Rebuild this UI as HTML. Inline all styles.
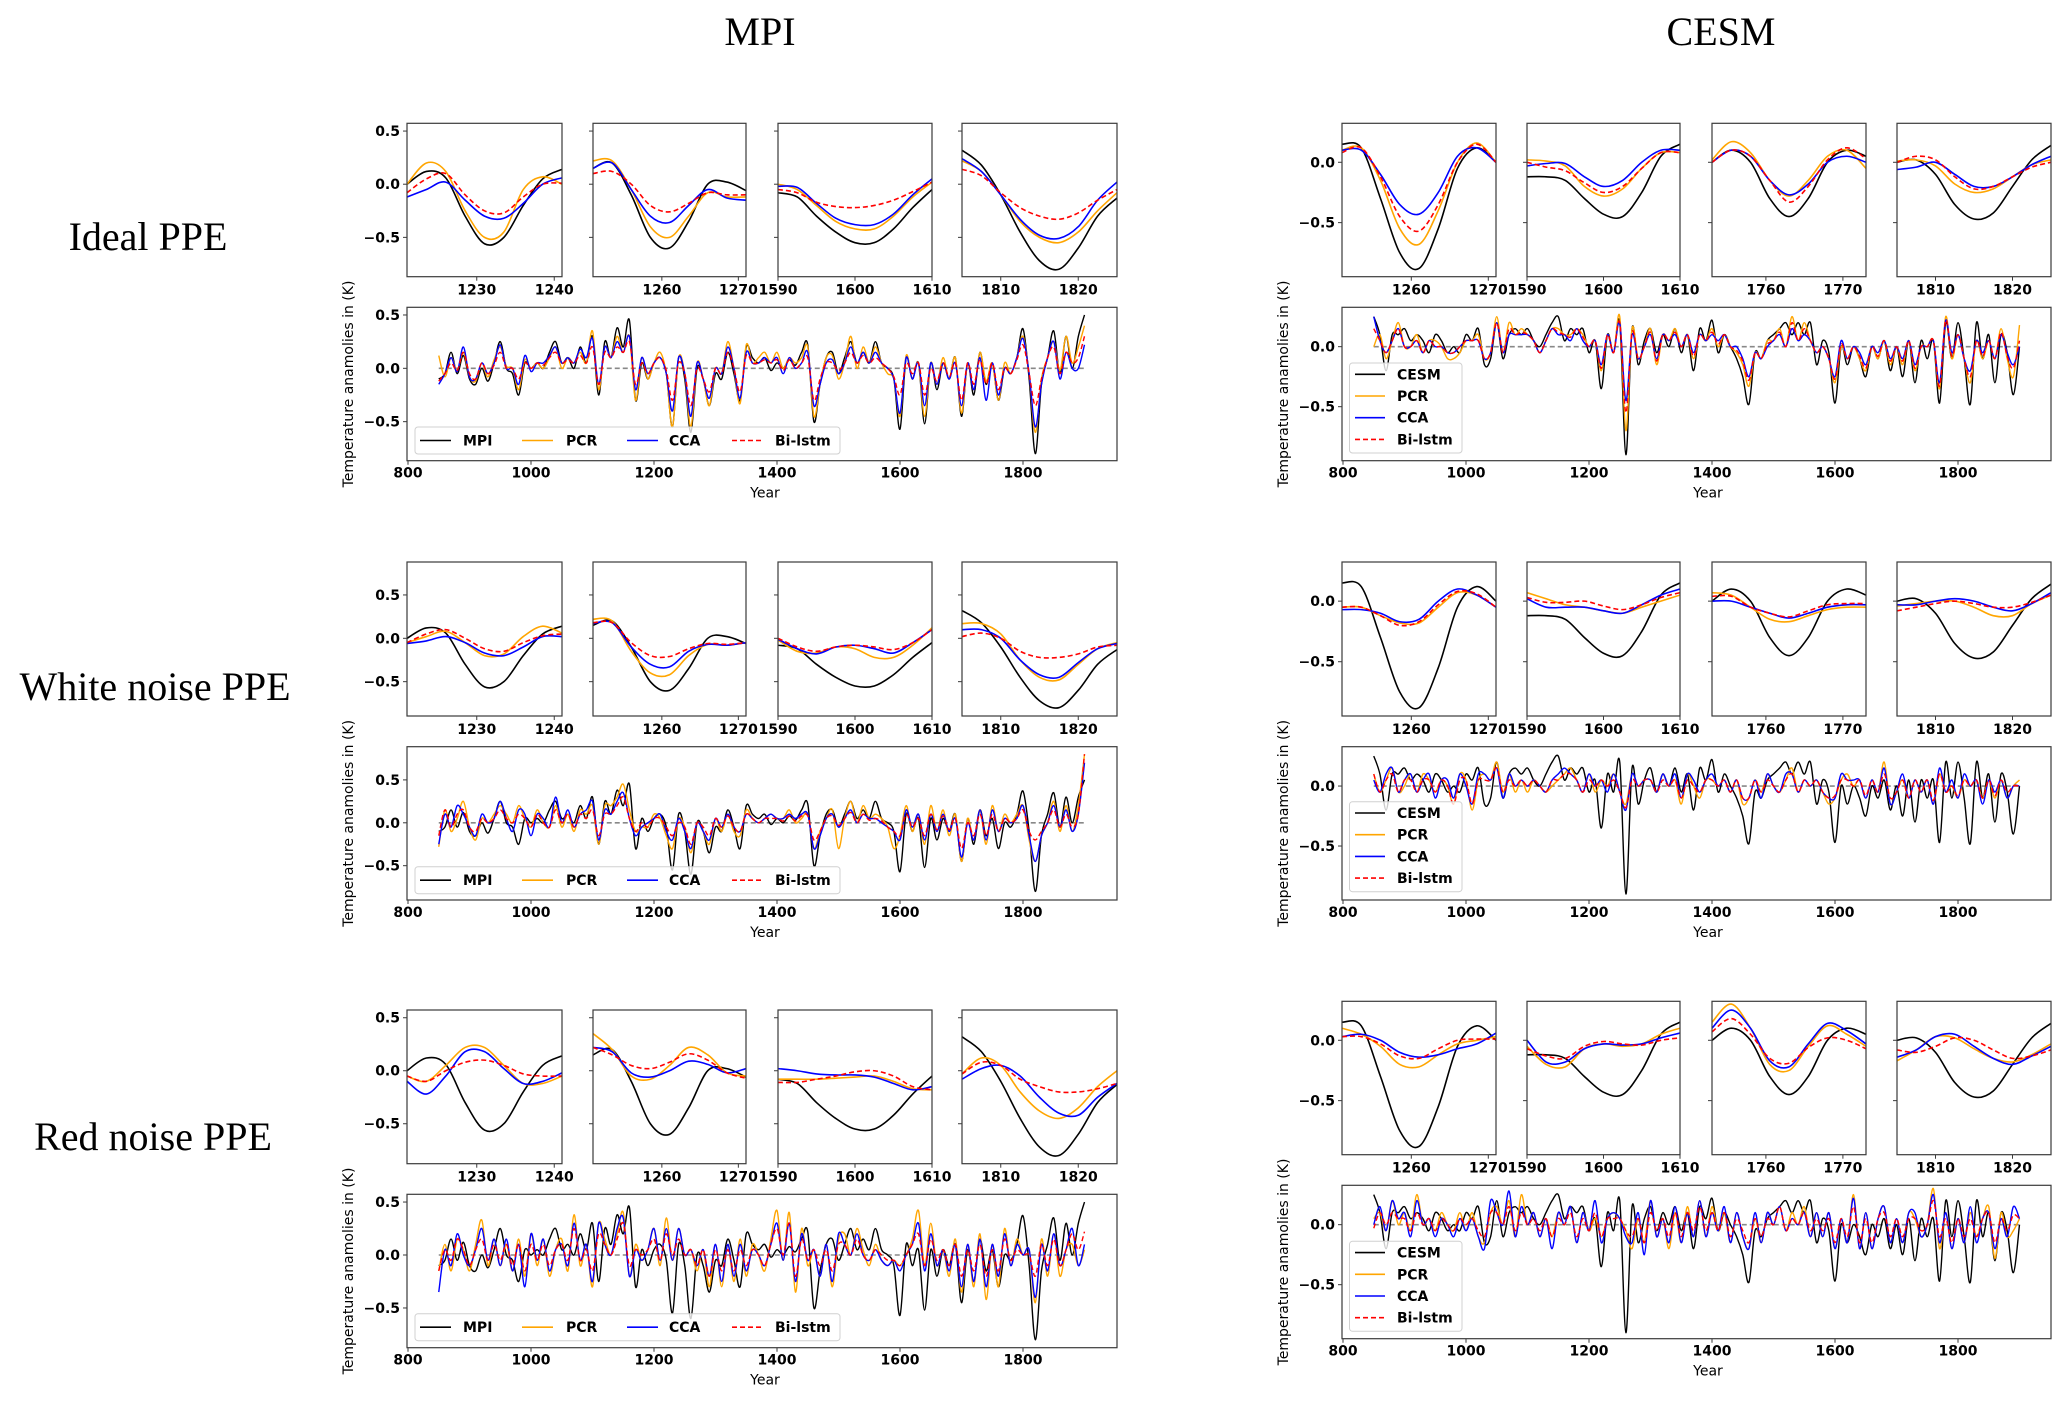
<!DOCTYPE html>
<html>
<head>
<meta charset="utf-8">
<style>
html,body{margin:0;padding:0;background:#fff;}
svg{display:block;}
.ttl{font-family:"Liberation Serif","Times New Roman",serif;font-size:40px;fill:#000;}
.tk{font-family:"DejaVu Sans","Liberation Sans",sans-serif;font-size:14px;font-weight:bold;fill:#000;}
.ax{font-family:"DejaVu Sans","Liberation Sans",sans-serif;font-size:14px;fill:#000;}
</style>
</head>
<body>
<svg id="fig" width="2067" height="1402" viewBox="0 0 2067 1402" xmlns="http://www.w3.org/2000/svg">
<rect x="0" y="0" width="2067" height="1402" fill="#fff"/>
<text class="ttl" x="760" y="45" text-anchor="middle">MPI</text>
<text class="ttl" x="1721" y="45" text-anchor="middle">CESM</text>
<text class="ttl" x="148" y="250" text-anchor="middle">Ideal PPE</text>
<text class="ttl" x="155" y="700" text-anchor="middle">White noise PPE</text>
<text class="ttl" x="153" y="1150" text-anchor="middle">Red noise PPE</text>
</svg>
<script>
// ===== Data: big panels, one value per decade 850..1900 =====
const BIG_START = 850;
const BIG_STEP = 10;
const MPI_TRUTH = [-0.1,-0.05,0.15,-0.05,0.12,-0.1,-0.15,0.0,-0.12,0.05,
0.25,0.0,-0.05,-0.25,0.05,0.0,0.05,0.0,0.15,0.25,
0.05,0.1,0.0,0.2,0.05,0.3,-0.25,0.25,0.1,0.38,
0.2,0.45,-0.3,0.05,-0.1,0.05,0.1,-0.05,-0.55,0.1,
-0.1,-0.6,0.0,-0.1,-0.35,-0.05,-0.1,0.15,-0.05,-0.3,
0.2,0.1,0.05,0.1,-0.02,0.05,0.0,0.08,0.03,0.15,
0.22,-0.5,-0.15,0.1,0.15,-0.05,0.1,0.25,0.05,0.15,
0.05,0.25,0.05,0.0,-0.1,-0.57,0.1,-0.1,0.05,-0.52,
0.05,-0.2,0.05,-0.1,0.1,-0.45,0.05,-0.25,0.15,-0.15,
0.05,-0.3,0.0,-0.05,0.1,0.37,-0.1,-0.8,-0.15,0.1,
0.35,-0.05,0.3,0.0,0.3,0.5];
const MPI_IDEAL_PCR = [0.12,-0.08,0.1,-0.02,0.15,-0.08,-0.12,0.05,-0.08,0.08,
0.2,0.02,0.0,-0.2,0.08,0.0,0.05,0.0,0.1,0.2,
0.0,0.1,0.05,0.15,0.05,0.35,-0.2,0.2,0.1,0.3,
0.15,0.3,-0.3,0.1,-0.1,0.05,0.15,-0.05,-0.55,0.1,
-0.05,-0.55,0.05,-0.1,-0.35,0.0,-0.05,0.25,0.0,-0.33,
0.22,0.05,0.1,0.15,0.05,0.15,0.0,0.1,0.05,0.1,
0.2,-0.45,-0.15,0.1,0.12,-0.1,0.05,0.3,0.0,0.2,
0.05,0.2,0.05,-0.05,-0.1,-0.45,0.12,-0.1,0.05,-0.45,
0.05,-0.15,0.1,-0.1,0.1,-0.42,0.05,-0.2,0.15,-0.12,
0.05,-0.3,0.05,-0.05,0.1,0.3,-0.05,-0.6,-0.1,0.1,
0.25,-0.02,0.3,0.05,0.2,0.4];
const MPI_IDEAL_CCA = [-0.15,-0.05,0.1,-0.03,0.2,-0.08,-0.1,0.05,-0.05,0.05,
0.22,0.0,0.0,-0.15,0.12,-0.03,0.05,0.05,0.12,0.2,
0.05,0.1,0.05,0.18,0.1,0.28,-0.15,0.2,0.1,0.25,
0.15,0.3,-0.2,0.1,-0.05,0.05,0.1,-0.05,-0.4,0.1,
-0.05,-0.45,0.05,-0.1,-0.28,0.0,-0.05,0.2,0.0,-0.28,
0.15,0.05,0.05,0.1,0.05,0.1,-0.05,0.1,0.0,0.05,
0.15,-0.35,-0.15,0.05,0.08,-0.05,0.05,0.2,0.05,0.15,
0.05,0.15,0.05,0.0,-0.1,-0.42,0.1,-0.1,0.05,-0.35,
0.05,-0.15,0.05,-0.1,0.05,-0.35,0.05,-0.2,0.1,-0.3,
0.05,-0.25,0.0,-0.05,0.1,0.28,-0.05,-0.55,-0.15,0.1,
0.25,-0.1,0.15,0.0,0.0,0.22];
const MPI_IDEAL_BI = [-0.12,-0.05,0.05,-0.02,0.15,-0.05,-0.1,0.05,-0.05,0.03,
0.15,0.0,0.0,-0.1,0.05,0.0,0.05,0.03,0.1,0.15,
0.05,0.08,0.05,0.12,0.05,0.2,-0.15,0.15,0.1,0.2,
0.15,0.25,-0.15,0.05,-0.05,0.05,0.1,-0.02,-0.3,0.05,
-0.05,-0.35,0.0,-0.1,-0.22,0.0,-0.05,0.15,0.0,-0.22,
0.12,0.05,0.05,0.08,0.05,0.08,-0.02,0.08,0.0,0.05,
0.1,-0.3,-0.1,0.05,0.05,-0.02,0.05,0.15,0.05,0.12,
0.05,0.1,0.05,0.0,-0.08,-0.25,0.05,-0.05,0.05,-0.25,
0.0,-0.12,0.05,-0.08,0.05,-0.3,0.05,-0.15,0.08,-0.15,
0.05,-0.2,0.0,-0.05,0.08,0.22,-0.05,-0.35,-0.1,0.1,
0.2,-0.05,0.15,0.05,0.1,0.3];
const MPI_WHITE_PCR = [-0.28,0.15,-0.1,0.05,0.25,-0.05,-0.2,0.05,0.0,0.1,
0.2,0.1,0.0,0.2,0.05,-0.05,0.15,0.0,-0.05,0.2,
-0.05,0.1,-0.1,0.15,0.1,0.2,-0.25,0.2,0.2,0.3,
0.45,0.15,-0.1,-0.05,-0.05,0.1,0.05,-0.15,-0.3,0.05,
-0.05,-0.35,0.0,-0.1,-0.25,0.05,-0.1,0.1,-0.1,-0.15,
0.15,0.05,0.0,0.05,0.1,0.05,0.05,0.15,0.0,0.05,
0.1,-0.3,-0.1,0.05,0.15,-0.3,0.05,0.25,0.0,0.2,
0.05,0.1,0.05,-0.05,-0.3,-0.15,0.2,-0.1,0.1,-0.25,
0.2,-0.1,0.15,-0.15,0.1,-0.45,0.05,-0.2,0.15,-0.25,
0.2,-0.1,0.1,0.0,0.1,0.2,-0.2,-0.45,-0.15,0.0,
0.25,-0.1,0.2,-0.1,0.2,0.8];
const MPI_WHITE_CCA = [-0.25,0.1,-0.05,0.2,0.1,-0.05,-0.15,0.1,0.0,0.05,
0.25,0.05,-0.1,0.15,0.1,-0.15,0.1,0.05,-0.05,0.3,
0.0,0.15,-0.05,0.1,0.15,0.25,-0.2,0.15,0.1,0.25,
0.35,0.05,-0.15,-0.05,0.0,0.05,0.1,-0.1,-0.2,0.05,
-0.1,-0.3,0.0,-0.1,-0.2,0.05,-0.05,0.1,-0.05,-0.1,
0.1,0.05,0.0,0.05,0.1,0.05,0.05,0.1,0.05,0.1,
0.1,-0.3,-0.15,0.05,0.1,-0.05,0.05,0.15,0.0,0.1,
0.05,0.05,0.0,-0.05,-0.1,-0.2,0.15,-0.05,0.1,-0.2,
0.1,-0.1,0.1,-0.1,0.05,-0.4,0.0,-0.2,0.15,-0.2,
0.15,-0.1,0.05,0.0,0.05,0.2,-0.15,-0.45,-0.15,0.0,
0.2,-0.05,0.15,-0.1,0.1,0.7];
const MPI_WHITE_BI = [-0.15,0.15,-0.05,0.1,0.15,-0.05,-0.1,0.05,0.0,0.05,
0.15,0.05,0.0,0.1,0.05,-0.05,0.1,0.0,-0.05,0.15,
0.0,0.1,-0.05,0.1,0.05,0.15,-0.15,0.1,0.1,0.2,
0.3,0.05,-0.1,0.0,-0.05,0.05,0.05,-0.05,-0.15,0.0,
-0.05,-0.25,0.0,-0.05,-0.15,0.05,-0.05,0.08,-0.05,-0.1,
0.1,0.05,0.0,0.05,0.05,0.05,0.02,0.08,0.02,0.08,
0.08,-0.2,-0.1,0.05,0.08,-0.03,0.05,0.12,0.0,0.1,
0.03,0.05,0.02,-0.05,-0.1,-0.15,0.1,-0.05,0.05,-0.15,
0.1,-0.08,0.08,-0.08,0.05,-0.3,0.0,-0.15,0.1,-0.15,
0.1,-0.1,0.05,0.0,0.05,0.15,-0.1,-0.2,-0.1,0.0,
0.15,-0.05,0.1,-0.05,0.1,0.8];
const MPI_RED_PCR = [-0.15,0.1,-0.15,0.15,0.05,-0.15,0.1,0.33,-0.1,0.15,
-0.1,0.1,-0.15,0.15,-0.2,0.2,-0.1,0.15,-0.2,0.05,
0.15,-0.15,0.38,-0.1,0.1,-0.3,0.3,0.15,0.0,0.2,
0.4,-0.2,0.1,-0.05,0.05,0.25,-0.1,0.35,-0.05,0.25,
0.0,0.05,-0.15,0.05,-0.3,0.1,-0.3,0.1,-0.25,0.15,
-0.2,0.1,0.0,-0.15,0.15,0.42,-0.05,0.4,-0.35,0.25,
-0.1,0.05,-0.2,0.1,-0.3,0.15,0.2,0.0,0.25,0.05,
-0.1,0.1,-0.05,-0.1,-0.05,-0.1,0.0,0.15,0.42,-0.1,
0.3,-0.1,0.05,-0.2,0.15,-0.35,0.1,-0.3,0.2,-0.42,
0.1,-0.3,0.25,-0.1,0.15,0.0,0.05,-0.45,0.15,-0.2,
0.2,-0.2,0.05,0.1,-0.1,0.05];
const MPI_RED_CCA = [-0.35,0.05,-0.1,0.2,0.0,-0.1,0.05,0.25,-0.05,0.15,
-0.1,0.15,-0.15,0.1,-0.3,0.2,-0.05,0.15,-0.15,0.05,
0.1,-0.1,0.3,-0.05,0.1,-0.25,0.3,0.1,0.0,0.25,
0.35,-0.2,0.05,-0.05,0.05,0.25,-0.05,0.25,-0.05,0.25,
0.0,0.05,-0.1,0.05,-0.2,0.1,-0.25,0.1,-0.2,0.1,
-0.15,0.05,0.0,-0.1,0.1,0.3,-0.05,0.3,-0.25,0.2,
-0.05,0.05,-0.2,0.1,-0.25,0.2,0.1,0.0,0.2,0.0,
-0.05,0.05,-0.05,-0.1,-0.05,-0.15,0.0,0.1,0.3,-0.15,
0.2,-0.1,0.05,-0.15,0.1,-0.3,0.1,-0.25,0.15,-0.3,
0.1,-0.2,0.2,-0.1,0.1,0.0,0.05,-0.4,0.1,-0.15,
0.2,-0.1,0.05,0.25,-0.1,0.1];
const MPI_RED_BI = [-0.15,0.05,-0.05,0.15,0.05,-0.1,0.05,0.15,-0.05,0.1,
-0.05,0.1,-0.1,0.1,-0.15,0.1,-0.05,0.1,-0.1,0.05,
0.1,-0.05,0.25,-0.05,0.05,-0.15,0.2,0.1,0.0,0.15,
0.3,-0.1,0.05,0.0,0.05,0.15,-0.05,0.2,0.0,0.15,
0.0,0.05,-0.1,0.05,-0.2,0.05,-0.15,0.05,-0.15,0.05,
-0.1,0.05,0.0,-0.1,0.1,0.25,0.0,0.3,-0.2,0.15,
-0.05,0.05,-0.1,0.05,-0.15,0.1,0.1,0.0,0.15,0.0,
-0.05,0.05,0.0,-0.05,-0.05,-0.1,0.0,0.1,0.2,-0.1,
0.15,-0.05,0.05,-0.1,0.1,-0.2,0.05,-0.15,0.1,-0.2,
0.05,-0.15,0.15,-0.05,0.05,0.0,0.0,-0.2,0.1,-0.1,
0.15,-0.1,0.05,0.2,0.05,0.22];
const CESM_TRUTH = [0.25,0.1,-0.2,0.1,0.1,0.15,0.05,0.1,0.05,-0.05,
0.1,0.05,-0.05,0.0,-0.05,0.1,0.05,0.15,-0.15,-0.1,
0.2,-0.1,0.1,0.15,0.1,0.15,0.05,0.0,0.1,0.2,
0.25,0.05,0.15,0.1,0.15,-0.05,0.05,-0.35,0.1,-0.05,
0.2,-0.9,0.15,-0.15,0.05,0.15,-0.05,0.1,0.0,0.15,
-0.05,0.1,-0.2,0.15,0.05,0.22,-0.05,0.1,0.0,-0.1,
-0.25,-0.48,-0.05,-0.1,0.05,0.1,0.15,0.2,0.1,0.2,
0.1,0.2,-0.15,0.05,-0.05,-0.47,0.0,-0.15,0.0,-0.1,
-0.25,0.0,-0.1,0.05,-0.2,0.0,-0.25,0.05,-0.3,0.05,
-0.1,0.05,-0.47,0.2,-0.1,0.2,-0.1,-0.48,0.2,-0.1,
0.1,-0.3,0.1,-0.05,-0.4,0.0];
const CESM_IDEAL_PCR = [0.0,0.1,-0.1,0.05,0.2,0.0,0.0,0.1,-0.05,0.05,
0.05,0.0,-0.1,-0.1,-0.05,0.05,0.05,0.1,-0.1,-0.05,
0.25,-0.05,0.2,0.1,0.15,0.1,0.05,-0.05,0.05,0.15,
0.15,0.1,0.1,0.15,0.1,0.0,0.05,-0.2,0.1,-0.05,
0.25,-0.7,0.15,-0.1,0.0,0.15,-0.15,0.1,0.05,0.15,
0.0,0.1,-0.1,0.1,0.05,0.15,0.0,0.1,0.0,-0.05,
-0.15,-0.33,-0.05,-0.1,0.05,0.05,0.15,0.0,0.25,0.05,
0.2,0.05,-0.05,0.0,-0.1,-0.3,0.0,-0.1,0.0,-0.1,
-0.2,0.0,-0.1,0.05,-0.15,0.0,-0.15,0.05,-0.2,0.0,
0.0,0.05,-0.35,0.25,-0.1,0.1,-0.1,-0.3,0.05,-0.1,
0.05,-0.1,0.15,-0.1,-0.25,0.18];
const CESM_IDEAL_CCA = [0.25,0.05,-0.05,0.05,0.15,0.0,0.0,0.05,-0.05,0.05,
0.0,0.0,-0.05,-0.05,0.0,0.05,0.05,0.05,-0.1,-0.05,
0.2,-0.05,0.1,0.1,0.1,0.1,0.05,-0.05,0.05,0.15,
0.1,0.1,0.05,0.15,0.05,0.0,0.05,-0.15,0.1,-0.05,
0.2,-0.45,0.1,-0.1,0.0,0.1,-0.1,0.1,0.05,0.1,
0.0,0.1,-0.05,0.1,0.05,0.1,0.05,0.1,0.0,0.0,
-0.1,-0.25,-0.05,-0.1,0.0,0.05,0.1,0.0,0.15,0.05,
0.1,0.05,-0.05,0.0,-0.1,-0.25,0.05,-0.1,0.0,-0.05,
-0.15,0.0,-0.05,0.05,-0.1,0.0,-0.1,0.05,-0.15,0.0,
0.0,0.05,-0.3,0.22,-0.05,0.1,-0.1,-0.2,0.05,-0.05,
0.05,-0.1,0.1,-0.05,-0.15,0.0];
const CESM_IDEAL_BI = [0.15,0.05,-0.05,0.05,0.15,0.0,0.0,0.05,-0.05,0.05,
0.0,0.0,-0.05,-0.05,0.0,0.05,0.05,0.05,-0.1,-0.05,
0.2,-0.05,0.15,0.1,0.12,0.1,0.05,-0.05,0.05,0.15,
0.12,0.1,0.08,0.15,0.08,0.0,0.05,-0.18,0.1,-0.05,
0.2,-0.55,0.12,-0.1,0.0,0.12,-0.12,0.1,0.05,0.12,
0.0,0.1,-0.08,0.1,0.05,0.12,0.02,0.1,0.0,-0.03,
-0.12,-0.28,-0.05,-0.1,0.02,0.05,0.12,0.0,0.2,0.05,
0.15,0.05,-0.05,0.0,-0.1,-0.27,0.02,-0.1,0.0,-0.08,
-0.18,0.0,-0.08,0.05,-0.12,0.0,-0.12,0.05,-0.18,0.0,
0.0,0.05,-0.33,0.22,-0.08,0.1,-0.1,-0.25,0.05,-0.08,
0.05,-0.1,0.12,-0.08,-0.18,0.05];
const CESM_WHITE_PCR = [0.1,-0.05,0.05,0.15,-0.05,0.0,0.1,-0.05,0.1,0.05,
-0.05,0.05,0.0,-0.15,0.1,0.05,-0.2,0.05,0.1,0.05,
0.2,-0.05,0.1,-0.05,0.05,-0.05,0.05,0.0,-0.05,0.0,
0.05,0.1,0.15,0.05,-0.05,0.1,-0.05,0.05,0.0,0.1,
-0.05,-0.15,0.1,0.0,0.05,0.05,-0.05,0.1,0.0,0.05,
-0.15,0.1,0.0,-0.1,0.05,0.05,0.0,0.05,-0.05,0.05,
-0.15,-0.1,0.05,-0.05,0.1,0.0,-0.05,0.05,0.15,-0.05,
0.05,0.0,0.05,-0.05,-0.15,-0.1,0.05,0.1,0.0,0.05,
-0.1,0.05,-0.05,0.2,-0.15,-0.05,0.05,-0.1,0.05,-0.05,
0.05,-0.15,0.1,-0.05,0.0,-0.1,0.05,0.0,0.05,-0.1,
0.05,-0.1,0.05,-0.1,0.0,0.05];
const CESM_WHITE_CCA = [0.05,-0.05,0.1,0.15,-0.05,0.05,0.1,-0.05,0.05,0.1,
-0.1,0.05,0.05,-0.1,0.1,0.0,-0.15,0.1,0.1,0.05,
0.15,-0.1,0.1,0.0,0.05,0.0,0.05,0.0,-0.05,0.05,
0.1,0.15,0.1,0.05,-0.05,0.1,0.0,0.05,-0.05,0.1,
-0.05,-0.2,0.1,0.0,0.05,0.05,-0.05,0.1,0.0,0.1,
-0.1,0.1,0.05,-0.05,0.05,0.1,0.0,0.05,-0.05,0.05,
-0.1,-0.1,0.05,-0.1,0.1,0.0,-0.05,0.1,0.1,-0.05,
0.05,0.0,0.05,-0.05,-0.1,-0.1,0.1,0.05,0.05,0.05,
-0.1,0.05,-0.05,0.15,-0.15,-0.05,0.1,-0.1,0.05,-0.05,
0.05,-0.15,0.15,-0.05,0.05,-0.1,0.1,0.0,0.05,-0.15,
0.05,-0.05,0.05,-0.1,0.0,0.0];
const CESM_WHITE_BI = [0.1,-0.05,0.05,0.1,-0.05,0.05,0.05,-0.05,0.05,0.05,
-0.05,0.05,0.0,-0.15,0.05,0.05,-0.15,0.05,0.05,0.05,
0.15,-0.05,0.05,0.0,0.05,0.0,0.05,0.0,-0.05,0.05,
0.05,0.1,0.1,0.05,-0.05,0.05,0.0,0.05,0.0,0.05,
-0.05,-0.18,0.05,0.0,0.05,0.05,-0.05,0.05,0.0,0.05,
-0.1,0.05,0.0,-0.05,0.05,0.05,0.0,0.05,-0.05,0.05,
-0.1,-0.1,0.05,-0.05,0.05,0.0,-0.05,0.05,0.1,-0.05,
0.05,0.0,0.05,-0.05,-0.1,-0.08,0.05,0.05,0.0,0.05,
-0.08,0.05,-0.05,0.1,-0.1,-0.05,0.05,-0.1,0.05,-0.05,
0.05,-0.12,0.1,-0.05,0.0,-0.08,0.05,0.0,0.05,-0.1,
0.05,-0.08,0.05,-0.05,0.0,0.0];
const CESM_RED_PCR = [0.05,0.1,-0.05,0.2,0.0,0.1,-0.05,0.25,0.0,0.05,
-0.05,0.1,0.0,-0.05,0.1,-0.05,0.1,-0.1,-0.15,0.1,
0.15,0.0,0.2,-0.1,0.25,0.0,0.1,-0.1,0.05,-0.1,
0.1,0.0,0.15,-0.15,0.1,-0.05,0.05,-0.1,0.05,0.1,
0.05,-0.05,-0.2,0.05,-0.15,0.2,-0.1,0.05,-0.2,0.1,
-0.15,0.15,-0.1,0.2,-0.1,0.15,-0.05,0.1,-0.15,0.1,
-0.1,-0.2,0.05,-0.15,0.1,0.0,0.15,-0.05,0.1,0.0,
0.15,-0.1,0.1,-0.1,0.1,-0.2,0.05,-0.15,0.25,-0.2,
0.1,-0.2,0.05,0.15,-0.15,0.05,-0.15,0.1,0.05,-0.1,
0.0,0.3,-0.2,0.1,-0.2,0.05,-0.15,0.1,-0.1,0.05,
0.15,-0.28,0.1,-0.1,-0.05,0.05];
const CESM_RED_CCA = [0.0,0.15,-0.05,0.2,0.05,0.1,-0.1,0.2,0.0,0.05,
-0.1,0.05,0.0,-0.1,0.05,-0.05,0.05,-0.1,-0.2,0.2,
0.1,0.0,0.28,-0.1,0.15,0.0,0.1,-0.1,0.05,-0.2,
0.1,0.0,0.15,-0.15,0.1,-0.05,0.2,-0.15,0.05,0.1,
0.05,-0.1,-0.15,0.1,-0.25,0.2,-0.1,0.05,-0.15,0.15,
-0.15,0.1,-0.1,0.2,-0.1,0.1,-0.05,0.15,-0.15,0.1,
-0.1,-0.2,0.1,-0.15,0.1,0.0,0.15,-0.05,0.05,0.0,
0.1,-0.1,0.1,-0.1,0.1,-0.2,0.05,-0.15,0.22,-0.2,
0.1,-0.2,0.05,0.15,-0.15,0.05,-0.15,0.1,0.1,-0.1,
0.0,0.25,-0.15,0.1,-0.2,0.05,-0.15,0.15,-0.15,0.05,
0.1,-0.2,0.05,-0.1,0.15,0.05];
const CESM_RED_BI = [-0.03,0.1,0.0,0.1,0.05,0.05,-0.05,0.1,0.0,0.05,
-0.05,0.05,0.0,-0.05,0.05,0.0,0.05,-0.05,-0.1,0.1,
0.1,0.0,0.15,-0.05,0.1,0.0,0.05,-0.05,0.05,-0.1,
0.05,0.0,0.1,-0.1,0.05,-0.05,0.1,-0.1,0.05,0.05,
0.05,-0.05,-0.1,0.05,-0.15,0.1,-0.05,0.05,-0.1,0.1,
-0.1,0.1,-0.05,0.15,-0.05,0.1,-0.05,0.1,-0.1,0.05,
-0.05,-0.15,0.05,-0.1,0.05,0.0,0.15,-0.05,0.05,0.0,
0.1,-0.05,0.05,-0.05,0.05,-0.15,0.05,-0.1,0.15,-0.15,
0.05,-0.15,0.05,0.1,-0.1,0.05,-0.1,0.05,0.05,-0.05,
0.0,0.2,-0.1,0.05,-0.15,0.05,-0.1,0.05,-0.1,0.05,
0.1,-0.15,0.05,-0.05,0.08,0.05];

// ===== Data: zoomed windows (9 samples per 20-year window) =====
const MPI_WINDOWS = [[1221,1241],[1251,1271],[1590,1610],[1805,1825]];
const MPI_WINDOW_TICKS = [[1230,1240],[1260,1270],[1590,1600,1610],[1810,1820]];
const CESM_WINDOWS = [[1251,1271],[1590,1610],[1753,1773],[1805,1825]];
const CESM_WINDOW_TICKS = [[1260,1270],[1590,1600,1610],[1760,1770],[1810,1820]];
const MPI_SM_TRUTH = [[0.0,0.12,0.06,-0.3,-0.56,-0.5,-0.2,0.05,0.14],[0.15,0.2,-0.1,-0.5,-0.6,-0.35,0.0,0.02,-0.06],[-0.08,-0.12,-0.3,-0.45,-0.55,-0.55,-0.42,-0.22,-0.05],[0.32,0.18,-0.1,-0.45,-0.72,-0.8,-0.6,-0.3,-0.13]];
const MPI_SM_IDEAL_PCR = [[0.0,0.2,0.12,-0.25,-0.5,-0.45,-0.05,0.07,0.0],[0.22,0.22,-0.05,-0.4,-0.5,-0.3,-0.08,-0.12,-0.12],[0.0,-0.05,-0.2,-0.35,-0.42,-0.42,-0.3,-0.12,0.02],[0.22,0.12,-0.1,-0.35,-0.5,-0.55,-0.45,-0.25,-0.08]];
const MPI_SM_IDEAL_CCA = [[-0.12,-0.05,0.02,-0.15,-0.3,-0.32,-0.18,0.0,0.06],[0.15,0.2,-0.05,-0.3,-0.36,-0.2,-0.05,-0.13,-0.15],[-0.02,-0.03,-0.18,-0.32,-0.38,-0.38,-0.28,-0.1,0.05],[0.24,0.12,-0.1,-0.33,-0.48,-0.51,-0.4,-0.15,0.02]];
const MPI_SM_IDEAL_BI = [[-0.08,0.05,0.1,-0.1,-0.25,-0.27,-0.12,0.0,0.01],[0.1,0.12,0.0,-0.2,-0.26,-0.18,-0.08,-0.1,-0.1],[-0.05,-0.08,-0.17,-0.21,-0.22,-0.2,-0.15,-0.07,0.02],[0.14,0.08,-0.08,-0.22,-0.3,-0.33,-0.27,-0.15,-0.05]];
const MPI_SM_WHITE_PCR = [[-0.05,0.02,0.08,-0.05,-0.2,-0.18,0.02,0.14,0.06],[0.22,0.2,-0.15,-0.4,-0.42,-0.2,-0.07,-0.08,-0.05],[-0.02,-0.15,-0.17,-0.1,-0.12,-0.22,-0.22,-0.08,0.12],[0.17,0.17,0.05,-0.25,-0.45,-0.48,-0.3,-0.12,-0.05]];
const MPI_SM_WHITE_CCA = [[-0.06,-0.03,0.02,-0.05,-0.17,-0.2,-0.1,0.02,0.02],[0.17,0.18,-0.1,-0.3,-0.33,-0.15,-0.07,-0.08,-0.05],[-0.01,-0.12,-0.18,-0.1,-0.08,-0.12,-0.17,-0.05,0.1],[0.1,0.1,0.0,-0.25,-0.42,-0.45,-0.28,-0.12,-0.06]];
const MPI_SM_WHITE_BI = [[-0.05,0.05,0.1,0.0,-0.12,-0.15,-0.05,0.03,0.05],[0.18,0.18,-0.05,-0.2,-0.21,-0.12,-0.06,-0.07,-0.05],[0.0,-0.1,-0.15,-0.1,-0.08,-0.1,-0.13,-0.05,0.1],[0.02,0.06,0.0,-0.15,-0.22,-0.22,-0.18,-0.1,-0.08]];
const MPI_SM_RED_PCR = [[-0.05,-0.1,0.05,0.22,0.22,0.05,-0.12,-0.12,-0.05],[0.35,0.2,-0.05,-0.08,0.05,0.22,0.15,-0.02,-0.05],[-0.08,-0.08,-0.08,-0.07,-0.06,-0.05,-0.1,-0.17,-0.18],[-0.03,0.12,0.05,-0.2,-0.38,-0.45,-0.35,-0.15,0.0]];
const MPI_SM_RED_CCA = [[-0.1,-0.22,-0.05,0.18,0.18,0.02,-0.12,-0.1,-0.02],[0.22,0.18,-0.02,-0.06,0.0,0.09,0.06,-0.02,0.02],[0.02,0.0,-0.03,-0.04,-0.04,-0.06,-0.12,-0.18,-0.15],[-0.08,0.02,0.05,-0.05,-0.25,-0.4,-0.42,-0.25,-0.12]];
const MPI_SM_RED_BI = [[-0.05,-0.1,0.0,0.08,0.1,0.05,-0.03,-0.05,-0.05],[0.22,0.15,0.05,0.02,0.08,0.16,0.1,-0.02,-0.07],[-0.11,-0.11,-0.08,-0.05,-0.01,0.0,-0.05,-0.15,-0.18],[-0.03,0.08,0.05,-0.08,-0.15,-0.2,-0.2,-0.17,-0.12]];
const CESM_SM_TRUTH = [[0.15,0.12,-0.3,-0.75,-0.88,-0.55,-0.05,0.12,0.0],[-0.12,-0.12,-0.15,-0.3,-0.43,-0.45,-0.25,0.05,0.15],[0.0,0.1,0.0,-0.3,-0.45,-0.3,0.0,0.1,0.05],[0.0,0.02,-0.1,-0.35,-0.47,-0.42,-0.2,0.02,0.14]];
const CESM_SM_IDEAL_PCR = [[0.1,0.12,-0.15,-0.55,-0.68,-0.4,0.0,0.16,0.0],[0.02,0.01,-0.03,-0.2,-0.28,-0.22,-0.05,0.08,0.08],[0.02,0.17,0.08,-0.15,-0.28,-0.15,0.05,0.1,-0.05],[0.01,0.02,-0.03,-0.18,-0.25,-0.22,-0.12,-0.02,0.02]];
const CESM_SM_IDEAL_CCA = [[0.1,0.1,-0.1,-0.35,-0.43,-0.25,0.05,0.12,0.0],[-0.03,-0.01,-0.01,-0.12,-0.2,-0.15,0.0,0.1,0.1],[0.0,0.1,0.05,-0.15,-0.27,-0.18,0.0,0.05,0.0],[-0.06,-0.04,0.0,-0.1,-0.2,-0.2,-0.12,-0.02,0.05]];
const CESM_SM_IDEAL_BI = [[0.08,0.12,-0.12,-0.45,-0.57,-0.35,0.0,0.15,0.0],[0.0,-0.04,-0.07,-0.17,-0.25,-0.2,-0.05,0.08,0.08],[0.0,0.1,0.05,-0.15,-0.33,-0.2,0.02,0.12,0.03],[0.0,0.05,0.02,-0.12,-0.22,-0.2,-0.12,-0.04,0.0]];
const CESM_SM_WHITE_PCR = [[-0.05,-0.05,-0.12,-0.18,-0.18,-0.05,0.07,0.05,-0.05],[0.07,0.02,-0.03,-0.05,-0.08,-0.1,-0.05,0.0,0.05],[0.07,0.05,-0.05,-0.15,-0.17,-0.12,-0.07,-0.05,-0.05],[-0.04,-0.02,0.0,0.0,-0.05,-0.12,-0.12,-0.02,0.05]];
const CESM_SM_WHITE_CCA = [[-0.07,-0.07,-0.1,-0.17,-0.15,0.0,0.1,0.05,-0.05],[0.02,-0.05,-0.05,-0.05,-0.08,-0.1,-0.03,0.05,0.1],[0.0,0.0,-0.05,-0.1,-0.14,-0.1,-0.05,-0.03,-0.03],[-0.03,-0.03,0.0,0.02,0.0,-0.05,-0.08,-0.02,0.07]];
const CESM_SM_WHITE_BI = [[-0.05,-0.05,-0.12,-0.2,-0.17,-0.03,0.08,0.06,-0.05],[0.03,-0.01,-0.01,0.0,-0.04,-0.07,-0.03,0.03,0.07],[0.04,0.04,-0.05,-0.1,-0.13,-0.08,-0.03,-0.02,-0.02],[-0.08,-0.05,-0.02,0.0,-0.02,-0.05,-0.05,-0.01,0.05]];
const CESM_SM_RED_PCR = [[0.1,0.05,-0.05,-0.2,-0.22,-0.12,-0.03,0.0,0.03],[-0.05,-0.2,-0.22,-0.07,-0.03,-0.05,-0.03,0.05,0.1],[0.15,0.3,0.1,-0.2,-0.25,-0.05,0.12,0.05,-0.05],[-0.17,-0.08,0.03,0.02,-0.07,-0.15,-0.18,-0.12,-0.03]];
const CESM_SM_RED_CCA = [[0.03,0.05,0.0,-0.1,-0.14,-0.12,-0.07,-0.03,0.06],[0.0,-0.18,-0.18,-0.07,-0.03,-0.04,-0.03,0.02,0.06],[0.1,0.25,0.1,-0.17,-0.22,-0.03,0.14,0.08,-0.03],[-0.14,-0.08,0.03,0.05,-0.05,-0.15,-0.2,-0.13,-0.05]];
const CESM_SM_RED_BI = [[0.03,0.03,-0.03,-0.13,-0.15,-0.07,0.0,0.01,0.01],[-0.07,-0.13,-0.15,-0.05,-0.01,-0.03,-0.04,0.0,0.02],[0.07,0.18,0.05,-0.15,-0.19,-0.06,0.02,0.0,-0.07],[-0.08,-0.1,-0.05,0.02,0.0,-0.08,-0.15,-0.13,-0.08]];

const BIG_XTICKS = [800,1000,1200,1400,1600,1800];
const MPI_YTICKS = [0.5,0.0,-0.5];
const CESM_YTICKS = [0.0,-0.5];
const LEGEND_MPI = ['MPI','PCR','CCA','Bi-lstm'];
const LEGEND_CESM = ['CESM','PCR','CCA','Bi-lstm'];

// ===== Layout =====
const NS = 'http://www.w3.org/2000/svg';
const svg = document.getElementById('fig');
const STY = [
  {stroke:'#000000', dash:null},
  {stroke:'#FFA500', dash:null},
  {stroke:'#0000FF', dash:null},
  {stroke:'#FF0000', dash:'5,3'}
];
const SERIES_NAMES = ['truth','pcr','cca','bi-lstm'];

function mk(tag, attrs, parent){
  const e = document.createElementNS(NS, tag);
  for (const k in attrs) e.setAttribute(k, attrs[k]);
  (parent || svg).appendChild(e);
  return e;
}
function scale(d0,d1,r0,r1){ return v => r0 + (v-d0)/(d1-d0)*(r1-r0); }
function smoothPath(pts){
  let d = 'M' + pts[0][0].toFixed(2) + ',' + pts[0][1].toFixed(2);
  for (let i=0;i<pts.length-1;i++){
    const p0 = pts[Math.max(0,i-1)], p1 = pts[i], p2 = pts[i+1], p3 = pts[Math.min(pts.length-1,i+2)];
    const c1x = p1[0] + (p2[0]-p0[0])/6, c1y = p1[1] + (p2[1]-p0[1])/6;
    const c2x = p2[0] - (p3[0]-p1[0])/6, c2y = p2[1] - (p3[1]-p1[1])/6;
    d += 'C' + c1x.toFixed(2)+','+c1y.toFixed(2)+' '+c2x.toFixed(2)+','+c2y.toFixed(2)+' '+p2[0].toFixed(2)+','+p2[1].toFixed(2);
  }
  return d;
}
let clipId = 0;
function makeAxes(name, x0, x1, y0, y1){
  const g = mk('g', {});
  
  
  const id = 'clip' + (clipId++);
  const cp = mk('clipPath', {id:id}, g);
  
  
  const cr = mk('rect', {x:x0, y:y0, width:x1-x0, height:y1-y0}, cp);
  
  
  const plot = mk('g', {'clip-path':'url(#'+id+')'}, g);
  
  
  return {g:g, plot:plot};
}
function drawFrame(g, name, x0, x1, y0, y1){
  const r = mk('rect', {x:x0, y:y0, width:x1-x0, height:y1-y0, fill:'none', stroke:'#3a3a3a', 'stroke-width':1.2}, g);
  
  
}
function xTicks(g, name, ticks, sx, yb, labelY){
  ticks.forEach(t => {
    const px = sx(t);
    const tl = mk('line', {x1:px, x2:px, y1:yb, y2:yb+4, stroke:'#3a3a3a', 'stroke-width':1}, g);
    
    
    const tx = mk('text', {x:px, y:labelY, 'text-anchor':'middle', class:'tk'}, g);
    tx.textContent = String(t);
    
    
  });
}
function yTicks(g, name, ticks, sy, xl, withLabels){
  ticks.forEach(t => {
    const py = sy(t);
    const tl = mk('line', {x1:xl-4, x2:xl, y1:py, y2:py, stroke:'#3a3a3a', 'stroke-width':1}, g);
    
    
    if (withLabels){
      const tx = mk('text', {x:xl-7, y:py+5, 'text-anchor':'end', class:'tk'}, g);
      tx.textContent = (t < 0 ? '\u2212' : '') + Math.abs(t).toFixed(1);
      
      
    }
  });
}
function drawLine(parent, name, years, vals, sx, sy, si, lw){
  const pts = vals.map((v,i) => [sx(years[i]), sy(v)]);
  const p = mk('path', {d:smoothPath(pts), fill:'none', stroke:STY[si].stroke, 'stroke-width':lw, 'stroke-linejoin':'round'}, parent);
  if (STY[si].dash) p.setAttribute('stroke-dasharray', STY[si].dash);
  
  
}

const COLS = {
  MPI: {small:[[407,562],[593,746],[778,932],[962,1117]], big:[407,1117], ylabX:353,
        windows:MPI_WINDOWS, wticks:MPI_WINDOW_TICKS, yticks:MPI_YTICKS, legend:LEGEND_MPI,
        truth:MPI_TRUTH, smTruth:MPI_SM_TRUTH,
        rows:[
          {key:'ideal', sTop:123.3, sBot:276.7, sY:[-0.87,0.573], bTop:307.3, bBot:460.7, bY:[-0.866,0.572], leg:427,
           big:[MPI_IDEAL_PCR,MPI_IDEAL_CCA,MPI_IDEAL_BI], sm:[MPI_SM_IDEAL_PCR,MPI_SM_IDEAL_CCA,MPI_SM_IDEAL_BI]},
          {key:'white', sTop:562, sBot:716, sY:[-0.896,0.88], bTop:746.7, bBot:900, bY:[-0.9,0.887], leg:866.7,
           big:[MPI_WHITE_PCR,MPI_WHITE_CCA,MPI_WHITE_BI], sm:[MPI_SM_WHITE_PCR,MPI_SM_WHITE_CCA,MPI_SM_WHITE_BI]},
          {key:'red', sTop:1010, sBot:1163.7, sY:[-0.877,0.573], bTop:1194.3, bBot:1347.7, bY:[-0.875,0.573], leg:1313.7,
           big:[MPI_RED_PCR,MPI_RED_CCA,MPI_RED_BI], sm:[MPI_SM_RED_PCR,MPI_SM_RED_CCA,MPI_SM_RED_BI]}
        ]},
  CESM: {small:[[1342,1496],[1527,1680],[1712,1866],[1897,2051]], big:[1342,2051], ylabX:1288,
        windows:CESM_WINDOWS, wticks:CESM_WINDOW_TICKS, yticks:CESM_YTICKS, legend:LEGEND_CESM,
        truth:CESM_TRUTH, smTruth:CESM_SM_TRUTH,
        rows:[
          {key:'ideal', sTop:123.3, sBot:276.7, sY:[-0.948,0.323], bTop:307.3, bBot:460.7, bY:[-0.95,0.328], leg:363,
           big:[CESM_IDEAL_PCR,CESM_IDEAL_CCA,CESM_IDEAL_BI], sm:[CESM_SM_IDEAL_PCR,CESM_SM_IDEAL_CCA,CESM_SM_IDEAL_BI]},
          {key:'white', sTop:562, sBot:716, sY:[-0.948,0.323], bTop:746.7, bBot:900, bY:[-0.95,0.328], leg:801.7,
           big:[CESM_WHITE_PCR,CESM_WHITE_CCA,CESM_WHITE_BI], sm:[CESM_SM_WHITE_PCR,CESM_SM_WHITE_CCA,CESM_SM_WHITE_BI]},
          {key:'red', sTop:1001.3, sBot:1154.7, sY:[-0.948,0.323], bTop:1185.3, bBot:1338.7, bY:[-0.95,0.328], leg:1241.3,
           big:[CESM_RED_PCR,CESM_RED_CCA,CESM_RED_BI], sm:[CESM_SM_RED_PCR,CESM_SM_RED_CCA,CESM_SM_RED_BI]}
        ]}
};

function legendMPI(g, name, labels, top){
  const box = mk('rect', {x:415, y:top, width:425, height:27, rx:3, fill:'#fff', 'fill-opacity':0.8, stroke:'#d0d0d0', 'stroke-width':1}, g);
  
  
  const lx = [420, 522, 627, 732];
  const tx = [463, 566, 669, 775];
  const cy = top + 13.5;
  labels.forEach((lab, i) => {
    const ln = mk('line', {x1:lx[i], x2:lx[i]+31, y1:cy, y2:cy, stroke:STY[i].stroke, 'stroke-width':1.6}, g);
    if (STY[i].dash) ln.setAttribute('stroke-dasharray', STY[i].dash);
    
    
    const t = mk('text', {x:tx[i], y:cy+5, class:'tk'}, g);
    t.textContent = lab;
    
    
  });
}
function legendCESM(g, name, labels, top){
  const box = mk('rect', {x:1349.5, y:top, width:112.5, height:90, rx:3, fill:'#fff', 'fill-opacity':0.8, stroke:'#d0d0d0', 'stroke-width':1}, g);
  
  
  labels.forEach((lab, i) => {
    const cy = top + 11.3 + i*21.7;
    const ln = mk('line', {x1:1355, x2:1385, y1:cy, y2:cy, stroke:STY[i].stroke, 'stroke-width':1.6}, g);
    if (STY[i].dash) ln.setAttribute('stroke-dasharray', STY[i].dash);
    
    
    const t = mk('text', {x:1397, y:cy+5, class:'tk'}, g);
    t.textContent = lab;
    
    
  });
}

Object.keys(COLS).forEach(model => {
  const C = COLS[model];
  const mname = model.toLowerCase();
  C.rows.forEach(R => {
    // ---- zoom windows ----
    C.small.forEach((xr, wi) => {
      const win = C.windows[wi];
      const pname = mname + '-' + R.key + '-window-' + win[0] + '-' + win[1];
      const ax = makeAxes(pname, xr[0], xr[1], R.sTop, R.sBot);
      const sx = scale(win[0], win[1], xr[0], xr[1]);
      const sy = scale(R.sY[0], R.sY[1], R.sBot, R.sTop);
      const seriesList = [C.smTruth[wi], R.sm[0][wi], R.sm[1][wi], R.sm[2][wi]];
      seriesList.forEach((vals, si) => {
        const years = vals.map((v,i) => win[0] + i*(win[1]-win[0])/(vals.length-1));
        drawLine(ax.plot, pname + '-line-' + SERIES_NAMES[si], years, vals, sx, sy, si, 1.6);
      });
      drawFrame(ax.g, pname, xr[0], xr[1], R.sTop, R.sBot);
      xTicks(ax.g, pname, C.wticks[wi], sx, R.sBot, R.sBot + 18);
      yTicks(ax.g, pname, C.yticks, sy, xr[0], wi === 0);
    });
    // ---- full series ----
    const bname = mname + '-' + R.key + '-full-series';
    const bx = C.big;
    const ax = makeAxes(bname, bx[0], bx[1], R.bTop, R.bBot);
    const sx = scale(800, 1800, bx[0] + 1, bx[0] + 1 + 615);
    const sy = scale(R.bY[0], R.bY[1], R.bBot, R.bTop);
    const zl = mk('line', {x1:sx(850), x2:sx(1900), y1:sy(0), y2:sy(0), stroke:'#888', 'stroke-width':1.6, 'stroke-dasharray':'5,3'}, ax.plot);
    
    
    const seriesList = [C.truth, R.big[0], R.big[1], R.big[2]];
    seriesList.forEach((vals, si) => {
      const years = vals.map((v,i) => BIG_START + i*BIG_STEP);
      drawLine(ax.plot, bname + '-line-' + SERIES_NAMES[si], years, vals, sx, sy, si, 1.4);
    });
    drawFrame(ax.g, bname, bx[0], bx[1], R.bTop, R.bBot);
    xTicks(ax.g, bname, BIG_XTICKS, sx, R.bBot, R.bBot + 17);
    yTicks(ax.g, bname, C.yticks, sy, bx[0], true);
    const xl = mk('text', {x:sx(1400) + (model==='MPI'?-12:-4), y:R.bBot + 37, 'text-anchor':'middle', class:'ax'}, ax.g);
    xl.textContent = 'Year';
    
    
    const cy = (R.bTop + R.bBot)/2;
    const yl = mk('text', {x:0, y:0, 'text-anchor':'middle', class:'ax', transform:'translate(' + C.ylabX + ',' + cy + ') rotate(-90)'}, ax.g);
    yl.textContent = 'Temperature anamolies in (K)';
    
    
    if (model === 'MPI') legendMPI(ax.g, bname + '-legend', C.legend, R.leg);
    else legendCESM(ax.g, bname + '-legend', C.legend, R.leg);
  });
});
</script>
</body>
</html>
